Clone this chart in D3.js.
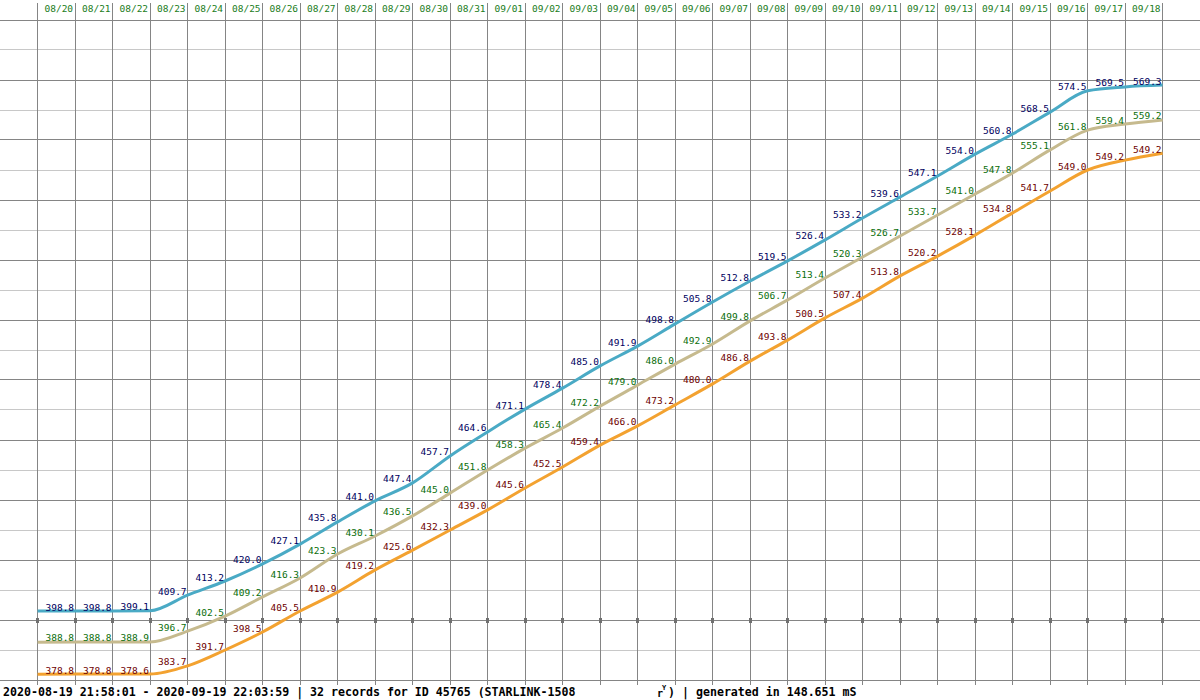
<!DOCTYPE html>
<html>
<head>
<meta charset="utf-8">
<script src="https://cdn.jsdelivr.net/npm/d3@7"></script>
<style>
  html, body { margin: 0; padding: 0; background: #ffffff; }
  svg { display: block; }
</style>
</head>
<body>
<svg id="chart" width="1200" height="700"></svg>
<script>
// ---- tick labels (day columns) ----
const days = ["08/20","08/21","08/22","08/23","08/24","08/25","08/26","08/27","08/28","08/29",
  "08/30","08/31","09/01","09/02","09/03","09/04","09/05","09/06","09/07","09/08",
  "09/09","09/10","09/11","09/12","09/13","09/14","09/15","09/16","09/17","09/18"];

// ---- values printed at each day boundary (vertex 1..30) ----
const blueValues = [398.8,398.8,399.1,409.7,413.2,420.0,427.1,435.8,441.0,447.4,
  457.7,464.6,471.1,478.4,485.0,491.9,498.8,505.8,512.8,519.5,
  526.4,533.2,539.6,547.1,554.0,560.8,568.5,574.5,569.5,569.3];
const greenValues = [388.8,388.8,388.9,396.7,402.5,409.2,416.3,423.3,430.1,436.5,
  445.0,451.8,458.3,465.4,472.2,479.0,486.0,492.9,499.8,506.7,
  513.4,520.3,526.7,533.7,541.0,547.8,555.1,561.8,559.4,559.2];
const orangeValues = [378.8,378.8,378.6,383.7,391.7,398.5,405.5,410.9,419.2,425.6,
  432.3,439.0,445.6,452.5,459.4,466.0,473.2,480.0,486.8,493.8,
  500.5,507.4,513.8,520.2,528.1,534.8,541.7,549.0,549.2,549.2];

// ---- plotted (smoothed) levels of each curve, vertex 0..30 ----
const bluePlot = [403.0,403.0,403.0,403.1,408.3,413.0,418.7,425.3,432.7,439.7,445.7,
  454.7,462.7,470.3,477.3,484.7,491.3,498.7,506.0,513.0,519.7,
  526.7,534.0,541.0,548.0,555.3,562.0,569.3,576.4,577.7,578.3];
const greenPlot = [392.6,392.7,392.7,392.7,396.3,401.3,407.7,414.0,422.0,428.0,434.7,
  442.3,450.0,457.3,464.0,471.3,478.3,485.3,492.0,499.7,506.7,
  514.0,521.0,528.0,535.0,542.0,549.0,556.7,563.3,565.3,566.7];
const orangePlot = [381.9,382.0,382.0,382.0,384.7,390.0,396.0,403.0,409.3,416.7,423.3,
  430.0,436.7,444.0,451.0,458.3,464.7,471.7,478.7,486.3,493.3,
  500.7,507.3,514.7,521.3,528.3,535.7,543.0,550.0,553.3,555.6];

const gridValues = d3.range(380, 601, 10);
const markerValue = 400;

const footerMain = "2020-08-19 21:58:01 - 2020-09-19 22:03:59 | 32 records for ID 45765 (STARLINK-1508";
const footerTail = "| generated in 148.651 mS";

// ---- drawing ----
const svg = d3.select("#chart");
const x = d3.scaleLinear().domain([0, days.length]).range([37.6, 1162.6]);
const y = d3.scaleLinear().domain([380, 600]).range([680, 20]);
const crisp = v => Math.floor(v) + 0.5;

// horizontal grid
svg.append("g").selectAll("line").data(gridValues).join("line")
  .attr("x1", 0).attr("x2", 1200)
  .attr("y1", d => crisp(y(d))).attr("y2", d => crisp(y(d)))
  .attr("stroke", d => (d % 20 === 0) ? "#858585" : "#c8c8c8")
  .attr("stroke-width", 1);

// vertical grid
const vIdx = d3.range(0, days.length + 1);
svg.append("g").selectAll("line").data(vIdx).join("line")
  .attr("x1", d => crisp(x(d))).attr("x2", d => crisp(x(d)))
  .attr("y1", 3).attr("y2", 685)
  .attr("stroke", "#858585").attr("stroke-width", 1);

// small square markers on the 400 grid line
svg.append("g").selectAll("rect").data(vIdx).join("rect")
  .attr("x", d => Math.floor(x(d)) - 1).attr("y", Math.round(y(markerValue)) - 2)
  .attr("width", 3).attr("height", 5).attr("fill", "#707070");

// day labels
svg.append("g").selectAll("text").data(days).join("text")
  .attr("x", (d, i) => x(i + 1) - 2).attr("y", 12)
  .attr("text-anchor", "end")
  .attr("font-family", "DejaVu Sans Mono, monospace").attr("font-size", "9.5px")
  .attr("fill", "#1b7d1b").text(d => d);

const series = [
  { plot: bluePlot, values: blueValues, line: "#4aaac5", text: "#00005e" },
  { plot: greenPlot, values: greenValues, line: "#c6ba8e", text: "#0a6e0a" },
  { plot: orangePlot, values: orangeValues, line: "#f3a230", text: "#6e0000" }
];

const lineGen = d3.line().x((d, i) => x(i)).y(d => y(d)).curve(d3.curveMonotoneX);

series.forEach(s => {
  svg.append("path").datum(s.plot)
    .attr("d", lineGen).attr("fill", "none")
    .attr("stroke", s.line).attr("stroke-width", 3).attr("stroke-linejoin", "round");
});

series.forEach(s => {
  svg.append("g").selectAll("text").data(s.values).join("text")
    .attr("x", (d, i) => x(i + 1) - 1)
    .attr("y", (d, i) => y(s.plot[i + 1]) - 0.5)
    .attr("text-anchor", "end")
    .attr("font-family", "DejaVu Sans Mono, monospace").attr("font-size", "9.5px")
    .attr("fill", s.text).text(d => d.toFixed(1));
});

// footer
const ff = "DejaVu Sans Mono, monospace";
svg.append("text").attr("x", 3).attr("y", 696)
  .attr("font-family", ff).attr("font-size", "11.6px").attr("font-weight", "bold")
  .attr("fill", "#000").text(footerMain);
svg.append("text").attr("x", 657).attr("y", 697)
  .attr("font-family", ff).attr("font-size", "10px").attr("font-weight", "bold")
  .attr("fill", "#000").text("r");
svg.append("text").attr("x", 662).attr("y", 690)
  .attr("font-family", ff).attr("font-size", "7px").attr("font-weight", "bold")
  .attr("fill", "#000").text("Y");
svg.append("text").attr("x", 668).attr("y", 696)
  .attr("font-family", ff).attr("font-size", "11.6px").attr("font-weight", "bold")
  .attr("fill", "#000").text(")");
svg.append("text").attr("x", 682).attr("y", 696)
  .attr("font-family", ff).attr("font-size", "11.6px").attr("font-weight", "bold")
  .attr("fill", "#000").text(footerTail);
</script>
</body>
</html>
